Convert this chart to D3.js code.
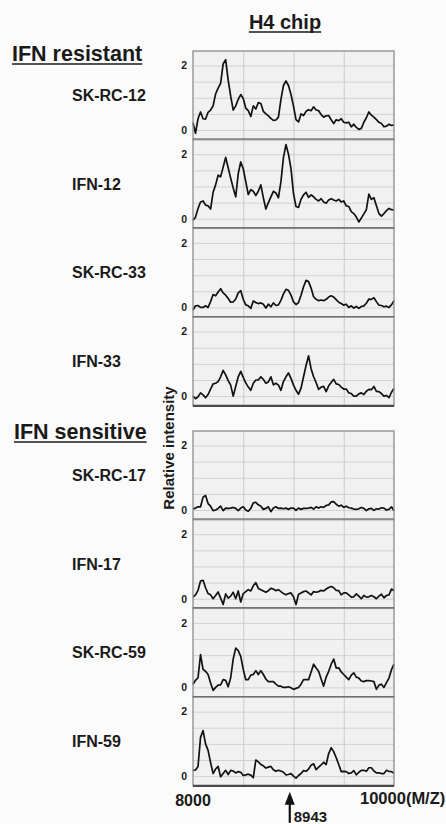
<!DOCTYPE html>
<html>
<head>
<meta charset="utf-8">
<script src="https://cdn.jsdelivr.net/npm/d3@7"></script>
<style>
  body { margin: 0; background: #fbfbfb; }
  text { font-family: "Liberation Sans", Arial, Helvetica, sans-serif; fill: #1a1a1a; }
</style>
</head>
<body>
<svg id="chart" width="446" height="824"></svg>
<script>
// sample names, top to bottom
const samples = ['SK-RC-12', 'IFN-12', 'SK-RC-33', 'IFN-33', 'SK-RC-17', 'IFN-17', 'SK-RC-59', 'IFN-59'];
const groups = ['IFN resistant', 'IFN sensitive'];
const gridX = [8500, 9000, 9500];
const gridY = [0, 0.5, 1, 1.5, 2];
const yTicks = [0, 2];
const marker = 8943;

// relative intensity, read every 25 M/Z from 8000 to 10000
const skrc12 = [0.23,-0.1,0.35,0.56,0.35,0.34,0.55,0.62,0.75,1.12,
  1.3,1.45,2.05,2.18,1.55,1.05,0.62,0.75,0.95,1.1,
  0.98,0.68,0.6,0.42,0.75,0.65,0.85,0.82,0.58,0.5,
  0.44,0.36,0.3,0.31,0.4,0.95,1.38,1.52,1.38,1.1,
  0.74,0.32,0.25,0.5,0.45,0.58,0.63,0.6,0.72,0.62,
  0.6,0.48,0.4,0.44,0.45,0.32,0.2,0.32,0.29,0.35,
  0.24,0.22,0.24,0.1,0.18,0.08,0.02,0.05,0.24,0.38,
  0.56,0.46,0.4,0.32,0.24,0.2,0.1,0.12,0.18,0.14,0.16];
const ifn12 = [-0.05,0.05,0.32,0.52,0.55,0.42,0.4,0.3,0.82,1.05,
  1.35,1.3,1.6,1.9,1.58,1.26,0.95,0.68,1.4,1.76,
  1.55,1.15,0.75,0.9,0.85,0.72,0.85,1.05,0.65,0.3,
  0.5,0.68,0.85,0.8,0.65,1.15,1.9,2.3,2.0,1.55,
  0.78,0.38,0.35,0.6,0.74,0.82,0.66,0.74,0.68,0.6,
  0.55,0.62,0.52,0.48,0.58,0.62,0.58,0.55,0.6,0.52,
  0.55,0.4,0.38,0.22,0.16,0.05,-0.1,0.02,0.15,0.28,
  0.76,0.6,0.65,0.4,0.16,0.08,0.16,0.25,0.32,0.28,0.27];
const skrc33 = [-0.08,0.05,0.06,0,0,0.05,0,0.18,0.4,0.36,
  0.48,0.58,0.45,0.38,0.28,0.16,0.17,0.26,0.45,0.52,
  0.25,0.08,0.05,-0.03,0.2,0.15,0.12,0.14,0.1,-0.02,
  0.1,0.02,0.14,0.06,0.08,0.22,0.42,0.56,0.53,0.38,
  0.17,0.09,0.15,0.38,0.64,0.84,0.8,0.6,0.33,0.25,
  0.21,0.23,0.21,0.25,0.32,0.36,0.32,0.24,0.16,0.12,
  0.07,0.1,0,0.05,-0.02,0.03,-0.03,0.03,0.05,0.13,
  0.26,0.25,0.3,0.18,0.07,0.06,0.02,0.04,0,0.08,0.21];
const ifn33 = [0,-0.08,-0.02,0.1,0.04,-0.05,0.05,0.22,0.38,0.4,
  0.45,0.6,0.8,0.66,0.48,0.34,0,0.3,0.6,0.77,
  0.58,0.41,0.28,0.18,0.4,0.5,0.5,0.6,0.52,0.4,
  0.44,0.6,0.35,0.4,0.34,0.18,0.45,0.6,0.72,0.55,
  0.34,0.18,0.06,0.25,0.6,0.95,1.25,0.85,0.6,0.42,
  0.21,0.28,0.3,0.14,0.32,0.42,0.52,0.38,0.36,0.28,
  0.22,0.22,0.1,0.08,0,0,0.07,0.1,0.05,0.15,
  0.21,0.2,0.3,0.15,0.14,0.08,0,0.02,-0.05,0.12,0.24];
const skrc17 = [0.03,0.06,0.1,0.1,0.4,0.45,0.2,0.12,-0.02,0,
  0.05,0.12,-0.02,0.06,0.05,0.06,0.08,0.05,-0.02,0.06,
  0.1,0,-0.04,0.05,0.22,0.24,0.16,0.12,0.02,0.05,
  0.1,-0.05,0.06,0.1,0.05,0.06,0.04,0.06,0.02,0.06,
  0.06,-0.01,0.06,0.02,0.05,0.05,0.06,0.08,0.03,0.1,
  0.06,0.1,0.08,0.14,0.16,0.25,0.26,0.18,0.12,0.15,
  0.08,0.12,0.07,0.06,0.03,0.02,0.04,0.08,0.05,-0.02,
  0.04,0.05,-0.01,0.04,0.03,0.07,0.06,0,0.02,0.1,-0.02];
const ifn17 = [0.05,0.12,0.26,0.55,0.57,0.34,0.16,0.12,0,0.1,
  0.21,0.02,-0.18,0.15,0.02,0.08,0.2,0,0.24,-0.1,
  0.16,0.22,0.28,0.24,0.4,0.5,0.32,0.28,0.24,0.2,
  0.25,0.32,0.3,0.25,0.28,0.22,0.16,0.12,0.16,0.18,
  0.06,-0.18,0.14,0.18,0.22,0.24,0.18,0.12,0.22,0.2,
  0.22,0.26,0.24,0.3,0.35,0.38,0.34,0.26,0.25,0.12,
  0.18,0.18,0.12,0.05,0.06,0.15,0.08,0,0.1,0.05,
  0.06,0.1,0.06,0,0.08,0.14,0.03,0.1,0.12,0.3,0.25];
const skrc59 = [0.1,0.22,0.3,1.02,0.56,0.5,0.4,0.14,-0.09,0,
  0.07,0.08,0.24,0.22,0.02,0.3,0.88,1.22,1.14,0.96,
  0.56,0.24,0.24,0.38,0.4,0.52,0.4,0.52,0.4,0.26,
  0.18,0.18,0.18,0.1,0.04,0.04,0,0,0.02,-0.01,
  -0.06,-0.03,0,0.1,0.24,0.24,0.24,0.48,0.72,0.6,
  0.5,0.26,0.04,0.32,0.5,0.72,0.88,0.6,0.61,0.48,
  0.4,0.32,0.24,0.38,0.45,0.32,0.29,0.2,0.18,0.21,
  0.21,0.2,0.18,-0.06,0.07,0.1,0,0.15,0.29,0.55,0.72];
const ifn59 = [0.18,0.19,0.3,1.2,1.41,1.0,0.8,0.42,0.08,0.22,
  0.3,-0.02,0.08,0.18,0.05,0.18,0.16,0.1,0.14,0.12,
  0.02,0.04,0.06,0.03,-0.05,0.5,0.44,0.36,0.32,0.25,
  0.28,0.3,0.2,0.15,0.18,0.16,0.12,0.04,0.05,0.08,
  0,-0.06,0.02,0.08,0.17,0.15,0.22,0.34,0.38,0.2,
  0.28,0.35,0.43,0.36,0.7,0.88,0.76,0.57,0.36,0.14,
  0.15,0.14,0.08,0.1,0.17,0.04,0.12,0.18,0.18,0.15,
  0.26,0.26,0.16,0.1,0.1,0.08,0.08,0.18,0.15,0.14,0.09];

const series = [skrc12, ifn12, skrc33, ifn33, skrc17, ifn17, skrc59, ifn59];
const mz = d3.range(8000, 10001, 25);

const svg = d3.select('#chart');
const x = d3.scaleLinear().domain([8000, 10000]).range([193, 394]);
const panelH = 88.7;
const groupTop = [51, 431];

const line = d3.line()
  .x((d, i) => x(mz[i]))
  .y(d => d);

series.forEach((vals, k) => {
  const top = groupTop[Math.floor(k / 4)] + (k % 4) * panelH;
  const y = d3.scaleLinear().domain([-0.3, 2.45]).range([top + panelH, top]);
  const g = svg.append('g');

  g.append('rect')
    .attr('x', x.range()[0]).attr('y', top)
    .attr('width', x.range()[1] - x.range()[0]).attr('height', panelH)
    .attr('fill', '#f1f1f1');

  // grid
  g.append('g')
    .attr('transform', `translate(${x.range()[0]},0)`)
    .call(d3.axisLeft(y).tickValues(gridY).tickSize(-(x.range()[1] - x.range()[0])).tickFormat(''))
    .call(a => a.select('.domain').remove())
    .call(a => a.selectAll('line').attr('stroke', '#d2d2d2').attr('stroke-width', 1));
  g.append('g')
    .attr('transform', `translate(0,${top + panelH})`)
    .call(d3.axisBottom(x).tickValues(gridX).tickSize(-panelH).tickFormat(''))
    .call(a => a.select('.domain').remove())
    .call(a => a.selectAll('line').attr('stroke', '#cacaca').attr('stroke-width', 1));

  // tick labels
  g.append('g')
    .attr('transform', `translate(${x.range()[0]},0)`)
    .call(d3.axisLeft(y).tickValues(yTicks).tickSize(0).tickPadding(6).tickFormat(d3.format('d')))
    .call(a => a.select('.domain').remove())
    .call(a => a.selectAll('text')
      .attr('font-size', 10.5).attr('font-weight', 'bold')
      .attr('font-family', '"Liberation Sans", Arial, sans-serif').attr('fill', '#1a1a1a'));

  // trace
  g.append('path')
    .attr('d', line(vals.map(v => y(v))))
    .attr('fill', 'none')
    .attr('stroke', '#121212')
    .attr('stroke-width', 1.7)
    .attr('stroke-linejoin', 'round');

  // frame
  g.append('rect')
    .attr('x', x.range()[0]).attr('y', top)
    .attr('width', x.range()[1] - x.range()[0]).attr('height', panelH)
    .attr('fill', 'none').attr('stroke', '#8c8c8c').attr('stroke-width', 1.3);
  g.append('line')
    .attr('x1', x.range()[0]).attr('x2', x.range()[1])
    .attr('y1', top + panelH).attr('y2', top + panelH)
    .attr('stroke', '#4a4a4a').attr('stroke-width', 2.2);

  svg.append('text')
    .attr('x', 72).attr('y', top + 50)
    .attr('font-size', 16).attr('font-weight', 'bold')
    .text(samples[k]);
});

function underlined(txt, xPos, yPos, size, anchor) {
  const t = svg.append('text')
    .attr('x', xPos).attr('y', yPos)
    .attr('font-size', size).attr('font-weight', 'bold')
    .attr('text-anchor', anchor)
    .text(txt);
  const w = t.node().getComputedTextLength();
  const x0 = anchor === 'middle' ? xPos - w / 2 : xPos;
  svg.append('line')
    .attr('x1', x0).attr('x2', x0 + w)
    .attr('y1', yPos + 3).attr('y2', yPos + 3)
    .attr('stroke', '#1a1a1a').attr('stroke-width', 1.6);
}

underlined('H4 chip', 285, 29, 20, 'middle');
underlined(groups[0], 12, 61, 21.5, 'start');
underlined(groups[1], 14, 439, 21.5, 'start');

svg.append('text')
  .attr('transform', 'translate(174,448) rotate(-90)')
  .attr('text-anchor', 'middle')
  .attr('font-size', 15).attr('font-weight', 'bold')
  .attr('fill', '#2a2a2a')
  .text('Relative intensity');

// bottom axis labels
const yAxis = groupTop[1] + 4 * panelH;
svg.append('text')
  .attr('x', x(8000)).attr('y', yAxis + 20)
  .attr('text-anchor', 'middle')
  .attr('font-size', 16).attr('font-weight', 'bold')
  .text('8000');
svg.append('text')
  .attr('x', x(10000) - 34).attr('y', yAxis + 18)
  .attr('font-size', 16.5).attr('font-weight', 'bold')
  .text('10000(M/Z)');

// marker arrow at 8943
const xm = x(marker) + 2;
svg.append('line')
  .attr('x1', xm).attr('x2', xm)
  .attr('y1', yAxis + 16).attr('y2', yAxis + 37)
  .attr('stroke', '#111').attr('stroke-width', 2.2);
svg.append('path')
  .attr('d', `M${xm - 5},${yAxis + 19}L${xm},${yAxis + 6}L${xm + 5},${yAxis + 19}Z`)
  .attr('fill', '#111');
svg.append('text')
  .attr('x', xm + 4).attr('y', yAxis + 36)
  .attr('font-size', 15).attr('font-weight', 'bold')
  .text(String(marker));
</script>
</body>
</html>
